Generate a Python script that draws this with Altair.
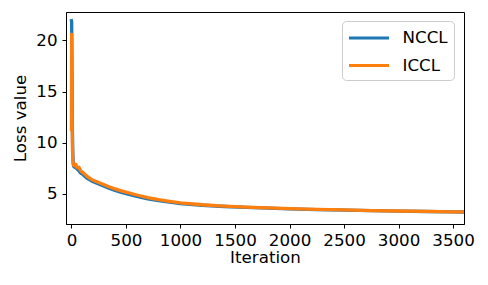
import altair as alt
import pandas as pd

iterations = [0, 2, 5, 8, 12, 16, 20, 30, 40, 50, 60, 70, 80, 90, 100, 120, 140, 160, 180, 200,
              250, 300, 350, 400, 450, 500, 600, 700, 800, 900, 1000, 1200, 1400, 1600, 1800,
              2000, 2250, 2500, 2750, 3000, 3250, 3500, 3600]

nccl = [21.9, 21.8, 17.0, 12.0, 9.2, 8.1, 7.7, 7.6, 7.55, 7.45, 7.35, 7.25, 7.1, 7.0, 6.95, 6.75,
        6.55, 6.42, 6.3, 6.2, 5.97, 5.75, 5.53, 5.35, 5.18, 5.03, 4.76, 4.53, 4.35, 4.2, 4.06,
        3.9, 3.78, 3.69, 3.61, 3.55, 3.48, 3.42, 3.37, 3.33, 3.29, 3.25, 3.24]

iccl = [11.3, 20.6, 15.0, 10.0, 8.3, 7.9, 7.8, 7.75, 7.9, 7.6, 7.55, 7.6, 7.35, 7.2, 7.15, 6.95,
        6.75, 6.6, 6.45, 6.35, 6.12, 5.9, 5.68, 5.5, 5.33, 5.18, 4.9, 4.65, 4.45, 4.28, 4.13,
        3.95, 3.82, 3.72, 3.64, 3.57, 3.5, 3.44, 3.38, 3.34, 3.3, 3.26, 3.25]

series_names = ["NCCL", "ICCL"]
series_colors = ["#1f77b4", "#ff7f0e"]
x_ticks = [0, 500, 1000, 1500, 2000, 2500, 3000, 3500]
y_ticks = [5, 10, 15, 20]

rows = []
for name, vals in zip(series_names, [nccl, iccl]):
    for i, (it, v) in enumerate(zip(iterations, vals)):
        rows.append({"Iteration": it, "Loss": v, "Method": name, "idx": i})
df = pd.DataFrame(rows)

FS = 16.7

chart = alt.Chart(df).mark_line(strokeWidth=3.3, strokeCap="square", strokeJoin="round", clip=True).encode(
    x=alt.X("Iteration:Q",
            scale=alt.Scale(domain=[-50, 3600], nice=False, zero=False),
            axis=alt.Axis(values=x_ticks, format="d", title="Iteration", labelPadding=4, titlePadding=1)),
    y=alt.Y("Loss:Q",
            scale=alt.Scale(domain=[2.07, 22.76], nice=False, zero=False),
            axis=alt.Axis(values=y_ticks, format="d", title="Loss value", labelPadding=5, titlePadding=6)),
    color=alt.Color("Method:N",
                    scale=alt.Scale(domain=series_names, range=series_colors),
                    legend=alt.Legend(title=None, orient="none", legendX=276, legendY=9,
                                      symbolType="M-1,0H3", symbolSize=400, symbolStrokeWidth=3,
                                      labelFontSize=FS, labelOffset=32, padding=5.5,
                                      rowPadding=6.5, fillColor="white", strokeColor="#cccccc",
                                      cornerRadius=4)),
    order="idx:Q",
).properties(
    width=398, height=212,
    autosize=alt.AutoSizeParams(type="none"),
    padding={"left": 58, "top": 4, "right": 16, "bottom": 53},
).configure(
    font="DejaVu Sans",
).configure_view(
    stroke="black", strokeWidth=1,
).configure_axis(
    labelFontSize=FS, titleFontSize=FS, titleFontWeight="normal",
    labelColor="black", titleColor="black", tickColor="black", domainColor="black",
    tickSize=4, grid=False, labelFont="DejaVu Sans", titleFont="DejaVu Sans",
).configure_legend(
    labelFont="DejaVu Sans", labelColor="black",
)

chart.save("out.html", embed_options={"renderer": "svg", "actions": False})
